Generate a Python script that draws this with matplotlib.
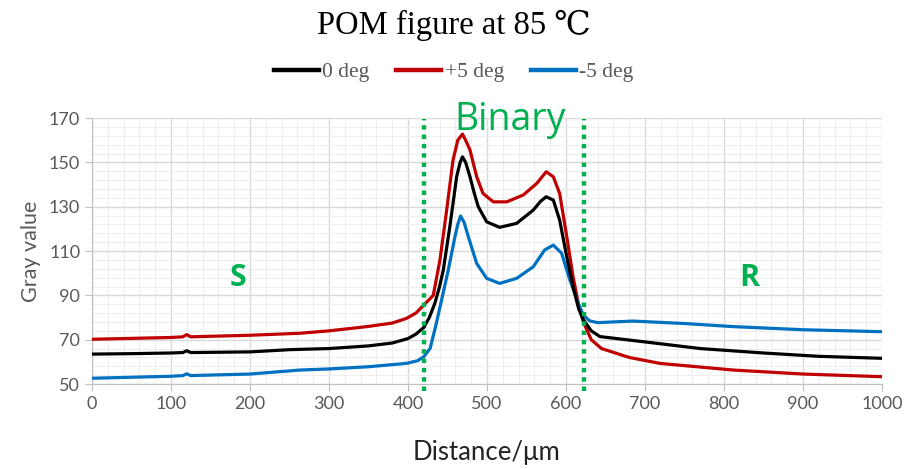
import matplotlib.pyplot as plt
from matplotlib.ticker import FixedLocator, MultipleLocator

# Data
x_black = [0, 50, 100, 115, 120, 125, 200, 250, 300, 350, 380, 400, 410, 420, 427, 434, 440, 444.7, 453, 461.6,
           466, 469, 473, 478.5, 484, 489, 499.6, 516, 537.6, 558.6, 568, 575, 584, 592, 601, 609, 616, 622,
           632, 643, 700, 770, 850, 920, 1000]
y_black = [63.5, 63.7, 64, 64.2, 65, 64.2, 64.5, 65.5, 66, 67.2, 68.5, 70.5, 72.5, 75.5, 80, 86.4, 94, 101.4, 121, 143.5,
           150, 152.5, 150, 143.5, 136, 130, 123.2, 120.7, 122.5, 128.5, 132.5, 134.5, 133, 124, 107.4, 93.9, 84, 79,
           74, 71.4, 69, 66, 64, 62.5, 61.6]

x_red = [0, 100, 115, 120, 125, 200, 263, 300, 348, 380, 398, 410, 420, 432, 440.5, 449, 457, 463, 469, 473,
         478.5, 487, 495, 508, 525, 546, 563, 575, 584, 592, 601, 609, 615.6, 622, 632, 645, 680, 719, 812,
         900, 1000]
y_red = [70.2, 71, 71.3, 72.3, 71.3, 72, 72.9, 74, 75.9, 77.5, 79.6, 82, 85.6, 90, 106, 128.5, 151, 160, 162.8, 160,
         155.6, 143.5, 136, 132.2, 132.2, 135.3, 140.5, 145.8, 143.5, 136, 116.5, 98.4, 86.4, 78, 70, 66, 62, 59.3, 56.3,
         54.5, 53.3]

x_blue = [0, 100, 115, 120, 125, 200, 263, 300, 350, 398, 412, 420, 428, 435, 442.6, 451, 459.5, 463, 466.6, 471,
          476.4, 487, 499.6, 516, 537.6, 558.6, 573, 584, 594.5, 605, 615.6, 622, 630, 640, 685, 750, 812, 900, 1000]
y_blue = [52.6, 53.5, 53.8, 54.6, 53.8, 54.5, 56.3, 56.8, 57.8, 59.3, 60.5, 62.3, 66, 76, 88, 101.4, 116.5, 122, 125.8, 123,
          116.5, 104.4, 97.7, 95.4, 97.7, 102.9, 110.5, 112.7, 109, 96.9, 86.4, 81, 78.5, 77.7, 78.4, 77.3, 75.9, 74.5, 73.6]

boundaries = [420, 623]

GREEN = "#00B050"
TICK_GRAY = "#595959"

fig = plt.figure(figsize=(9.07, 4.69), dpi=100)
ax = fig.add_axes([0.1014, 0.1812, 0.871, 0.567])

ax.plot(x_black, y_black, color="black", lw=2.3, label="0 deg", zorder=4)
ax.plot(x_red, y_red, color="#C00000", lw=2.3, label="+5 deg", zorder=3)
ax.plot(x_blue, y_blue, color="#0070C0", lw=2.3, label="-5 deg", zorder=3)

for b in boundaries:
    ax.plot([b, b], [47, 169.5], color=GREEN, lw=3.2, dashes=(1, 1.1),
            dash_capstyle="butt", clip_on=False, zorder=5)

ax.set_xlim(0, 1000)
ax.set_ylim(50, 170)
ax.xaxis.set_major_locator(MultipleLocator(100))
ax.xaxis.set_minor_locator(MultipleLocator(20))
ax.yaxis.set_major_locator(FixedLocator(range(50, 171, 20)))
ax.yaxis.set_minor_locator(FixedLocator(range(50, 171, 4)))
ax.grid(which="major", color="#D9D9D9", lw=1.0)
ax.grid(which="minor", color="#EEEEEE", lw=0.8)
ax.set_axisbelow(True)

for s in ["top", "right"]:
    ax.spines[s].set_visible(False)
for s in ["left", "bottom"]:
    ax.spines[s].set_color("#BFBFBF")
ax.tick_params(which="major", length=5, color="#BFBFBF", labelcolor=TICK_GRAY, labelsize=13)
ax.tick_params(which="minor", length=0)
for lab in ax.get_xticklabels() + ax.get_yticklabels():
    lab.set_family("Lato")

ax.set_ylabel("Gray value", fontsize=15.5, color=TICK_GRAY, family="Lato", labelpad=6)
ax.set_xlabel("Distance/μm", fontsize=18.5, color="#222222", family="Lato", labelpad=20)

ax.text(529, 169, "Binary", color=GREEN, fontsize=27, family="Open Sans", ha="center", va="center")
ax.text(185, 98, "S", color=GREEN, fontsize=22, fontweight="bold", family="Open Sans", ha="center", va="center")
ax.text(832, 98, "R", color=GREEN, fontsize=22, fontweight="bold", family="Open Sans", ha="center", va="center")

fig.text(0.5, 0.945, "POM figure at 85 \u2103", fontsize=23.5, family=["Liberation Serif", "DejaVu Serif"],
         ha="center", va="center")
fig.legend(loc="center", bbox_to_anchor=(0.5, 0.846), ncol=3, frameon=False,
           prop={"family": "Liberation Serif", "size": 15.5}, labelcolor=TICK_GRAY,
           handlelength=2.1, handletextpad=0.15, columnspacing=1.25)
for line in fig.legends[0].get_lines():
    line.set_linewidth(3.2)

fig.savefig("out.png", dpi=100)
